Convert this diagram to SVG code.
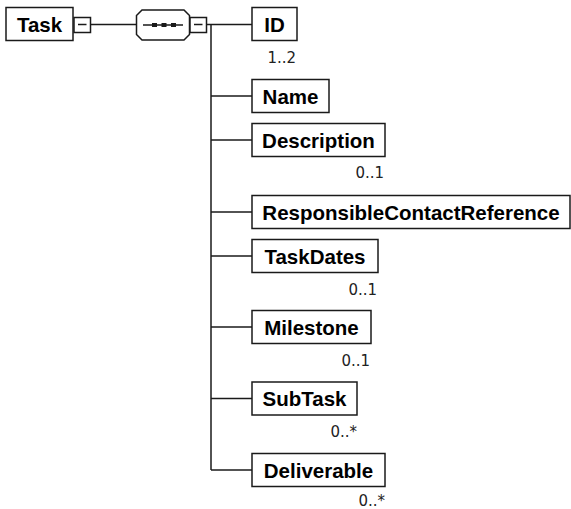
<svg xmlns="http://www.w3.org/2000/svg" width="571" height="509" viewBox="0 0 571 509">
<style>
.box{fill:#fff;stroke:#1a1a1a;stroke-width:1.5}
.ln{fill:none;stroke:#1a1a1a;stroke-width:1.5}
.nm{font-family:"Liberation Sans",Arial,sans-serif;font-weight:bold;font-size:20.5px;fill:#000;text-anchor:middle}
.mu{font-family:"DejaVu Sans",Verdana,sans-serif;font-size:15px;fill:#222;text-anchor:end}
</style>
<rect width="571" height="509" fill="#fff"/>
<g id="connectors">
<line class="ln" x1="90.5" y1="24.5" x2="136.5" y2="24.5"/>
<line class="ln" x1="206" y1="24.5" x2="252" y2="24.5"/>
<line class="ln" x1="211" y1="24.5" x2="211" y2="470"/>
<line class="ln" x1="211" y1="96" x2="252" y2="96"/>
<line class="ln" x1="211" y1="140" x2="252" y2="140"/>
<line class="ln" x1="211" y1="212" x2="252" y2="212"/>
<line class="ln" x1="211" y1="256" x2="252" y2="256"/>
<line class="ln" x1="211" y1="327" x2="252" y2="327"/>
<line class="ln" x1="211" y1="398.5" x2="252" y2="398.5"/>
<line class="ln" x1="211" y1="470" x2="252" y2="470"/>
</g>
<g id="Task">
<rect class="box" x="6" y="7.5" width="67" height="33"/>
<text class="nm" x="39.5" y="32">Task</text>
<rect class="box" x="74" y="17.5" width="16.5" height="15"/>
<line class="ln" x1="78" y1="24.5" x2="86.5" y2="24.5"/>
</g>
<g id="sequence">
<polygon class="box" points="142,10 184,10 189.5,15.5 189.5,34.5 184,40 142,40 136.5,34.5 136.5,15.5"/>
<line class="ln" x1="143" y1="25" x2="183" y2="25"/>
<rect x="152" y="23" width="5" height="4" fill="#1a1a1a"/>
<rect x="161.5" y="23" width="5" height="4" fill="#1a1a1a"/>
<rect x="171" y="23" width="5" height="4" fill="#1a1a1a"/>
<rect class="box" x="190" y="17.5" width="16.5" height="15"/>
<line class="ln" x1="194" y1="24.5" x2="202.5" y2="24.5"/>
</g>
<g id="ID">
<rect class="box" x="252" y="7.5" width="45" height="33"/>
<text class="nm" x="274.5" y="32">ID</text>
<text class="mu" x="296" y="63">1..2</text>
</g>
<g id="Name">
<rect class="box" x="252" y="79.5" width="77" height="33"/>
<text class="nm" x="290.5" y="103.5">Name</text>
</g>
<g id="Description">
<rect class="box" x="252" y="123.5" width="133" height="33"/>
<text class="nm" x="318.5" y="147.5">Description</text>
<text class="mu" x="384" y="178">0..1</text>
</g>
<g id="ResponsibleContactReference">
<rect class="box" x="252" y="195.5" width="318" height="33"/>
<text class="nm" x="411" y="219.5">ResponsibleContactReference</text>
</g>
<g id="TaskDates">
<rect class="box" x="252" y="239.5" width="126" height="33"/>
<text class="nm" x="315" y="263.5">TaskDates</text>
<text class="mu" x="377" y="295">0..1</text>
</g>
<g id="Milestone">
<rect class="box" x="252" y="310.5" width="119" height="33"/>
<text class="nm" x="311.5" y="334.5">Milestone</text>
<text class="mu" x="370" y="365.5">0..1</text>
</g>
<g id="SubTask">
<rect class="box" x="252" y="382" width="105" height="33"/>
<text class="nm" x="304.5" y="406">SubTask</text>
<text class="mu" x="357" y="437">0..*</text>
</g>
<g id="Deliverable">
<rect class="box" x="252" y="453.5" width="133" height="33"/>
<text class="nm" x="318.5" y="477.5">Deliverable</text>
<text class="mu" x="385" y="506">0..*</text>
</g>
</svg>
